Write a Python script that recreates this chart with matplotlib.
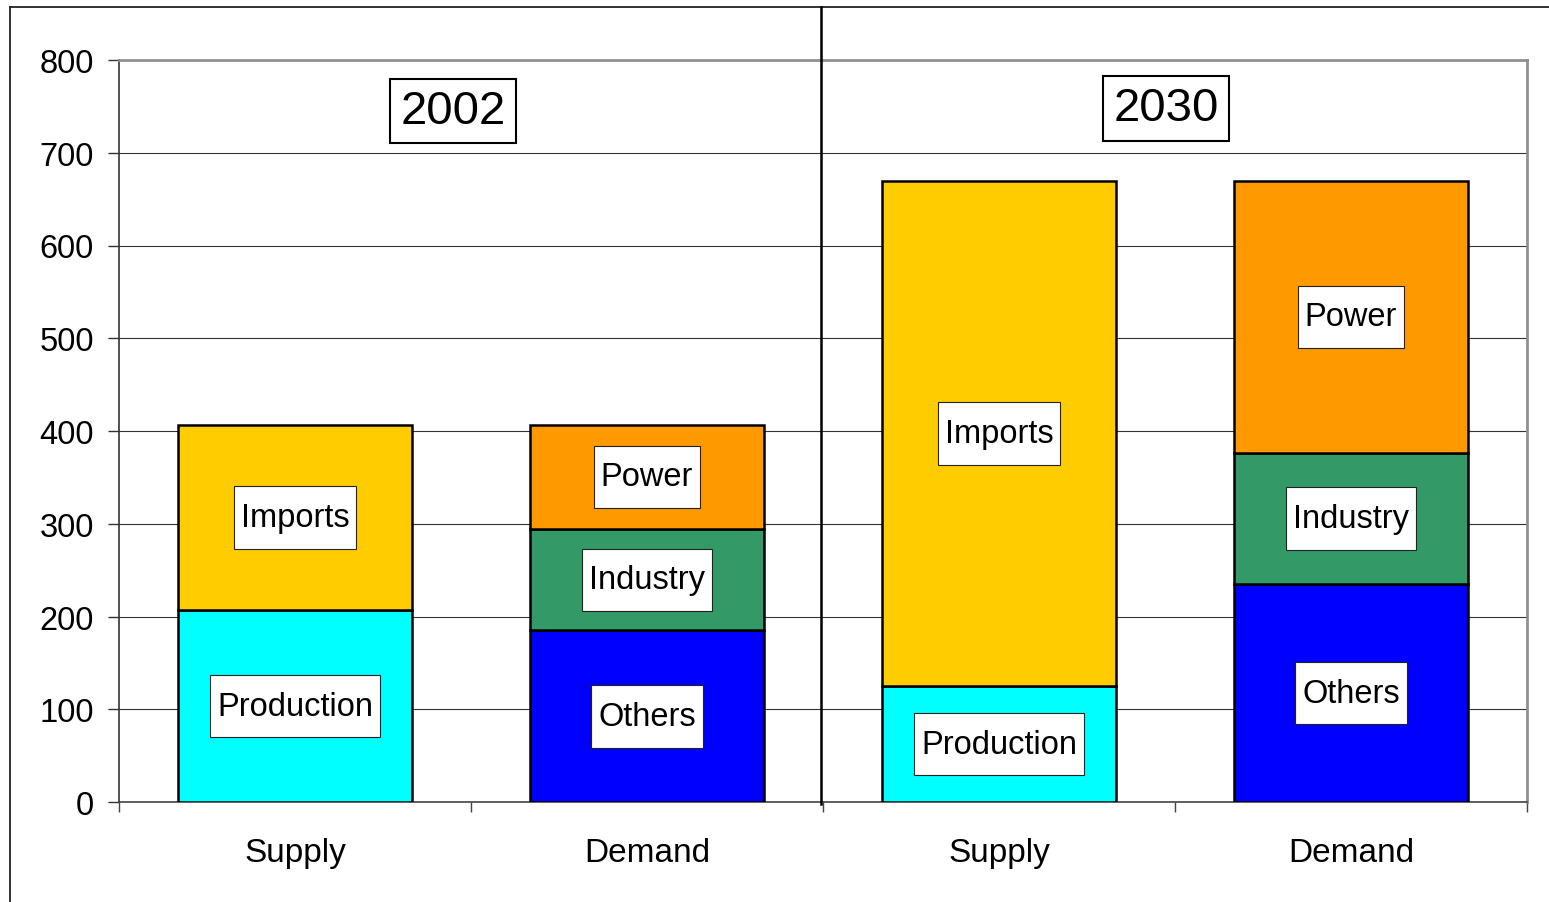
import matplotlib.pyplot as plt
from matplotlib.lines import Line2D

plt.rcParams['font.family'] = ['Liberation Sans', 'DejaVu Sans']

# Data (Mtoe)
categories = ["Supply", "Demand", "Supply", "Demand"]
years = ["2002", "2030"]
supply_production = [207, 125]
supply_imports = [200, 545]
demand_others = [185, 235]
demand_industry = [109, 141]
demand_power = [113, 294]

# colours, Excel style
c_prod = "#00FFFF"
c_imp = "#FFCC00"
c_oth = "#0000FF"
c_ind = "#339966"
c_pow = "#FF9900"

W, H = 1549, 903
fig = plt.figure(figsize=(W / 100, H / 100), dpi=100)
ax = fig.add_axes([119 / W, (H - 803) / H, 1408 / W, 742 / H])

bw = 0.667
xs = [0, 1, 2, 3]
lbl_box = dict(boxstyle="square,pad=0.22", mutation_aspect=2.2,
               fc="white", ec="#222222", lw=0.8)


def seg(x, bottom, height, color, label):
    ax.bar(x, height, bottom=bottom, width=bw, color=color,
           edgecolor="black", linewidth=1.8, zorder=3)
    ax.text(x, bottom + height / 2, label, ha="center", va="center",
            fontsize=23.5, bbox=lbl_box, zorder=4)


for i in range(2):
    xs_sup = xs[2 * i]
    xs_dem = xs[2 * i + 1]
    seg(xs_sup, 0, supply_production[i], c_prod, "Production")
    seg(xs_sup, supply_production[i], supply_imports[i], c_imp, "Imports")
    seg(xs_dem, 0, demand_others[i], c_oth, "Others")
    seg(xs_dem, demand_others[i], demand_industry[i], c_ind, "Industry")
    seg(xs_dem, demand_others[i] + demand_industry[i], demand_power[i], c_pow, "Power")

# year headings
year_box = dict(boxstyle="square,pad=0.22", fc="white", ec="black", lw=1.5)
ax.text(0.45, 745, years[0], ha="center", va="center", fontsize=34, bbox=year_box, zorder=4)
ax.text(2.475, 748, years[1], ha="center", va="center", fontsize=34, bbox=year_box, zorder=4)

ax.set_xlim(-0.5, 3.5)
ax.set_ylim(0, 800)
ax.set_yticks(range(0, 801, 100))
ax.yaxis.grid(True, color="#333333", linewidth=0.8, zorder=0)
ax.set_axisbelow(True)

ax.set_xticks(xs)
ax.set_xticklabels(categories)
ax.set_xticks([-0.5, 0.5, 1.5, 2.5, 3.5], minor=True)
ax.tick_params(axis="x", which="major", length=0, pad=25, labelsize=24)
ax.tick_params(axis="x", which="minor", length=7, width=1, color="#444444", direction="out")
ax.tick_params(axis="y", length=8, width=1, color="#333333", pad=10, labelsize=23.5)

ax.spines["left"].set_color("#333333")
ax.spines["left"].set_linewidth(1.2)
ax.spines["bottom"].set_color("#444444")
ax.spines["bottom"].set_linewidth(1.2)
ax.spines["top"].set_color("#909090")
ax.spines["top"].set_linewidth(2)
ax.spines["right"].set_color("#909090")
ax.spines["right"].set_linewidth(2)

# outer chart frame and divider between the two years
fig.add_artist(Line2D([10 / W, 10 / W], [0, 1 - 8 / H], color="#222222", lw=1.3))
fig.add_artist(Line2D([10 / W, 1], [1 - 8 / H, 1 - 8 / H], color="#222222", lw=1.3))
fig.add_artist(Line2D([821 / W, 821 / W], [(H - 805) / H, 1 - 8 / H], color="black", lw=1.8))

fig.savefig("out.png", dpi=100, facecolor="white")
